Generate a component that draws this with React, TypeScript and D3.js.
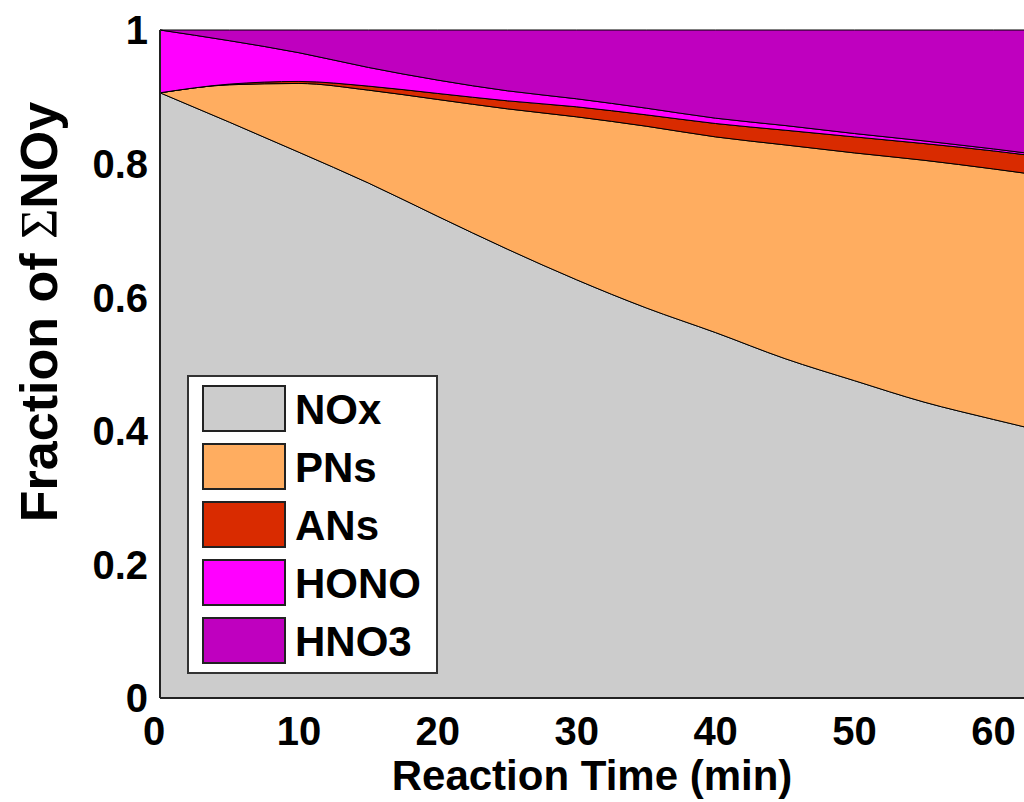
import React from 'react';
import * as d3 from 'd3';

// reaction time (min) and fraction of total NOy for each family
const times = [0, 5, 10, 15, 20, 25, 30, 35, 40, 45, 50, 55, 60, 65];
const nox = [0.906, 0.862, 0.817, 0.771, 0.721, 0.672, 0.626, 0.584, 0.547, 0.508, 0.475, 0.443, 0.417, 0.392];
const pns = [0, 0.056, 0.103, 0.139, 0.175, 0.21, 0.244, 0.272, 0.293, 0.32, 0.341, 0.362, 0.375, 0.386];
const ans = [0, 0.001, 0.003, 0.006, 0.009, 0.012, 0.015, 0.017, 0.02, 0.022, 0.024, 0.025, 0.027, 0.028];
const hono = [0.094, 0.065, 0.043, 0.028, 0.02, 0.015, 0.012, 0.01, 0.008, 0.007, 0.005, 0.004, 0.003, 0.003];
const hno3 = [0, 0.016, 0.034, 0.056, 0.075, 0.091, 0.103, 0.117, 0.132, 0.143, 0.155, 0.166, 0.178, 0.191];

const seriesNames = ['NOx', 'PNs', 'ANs', 'HONO', 'HNO3'];
const seriesColors = ['#cccccc', '#ffad60', '#d92b00', '#ff00ff', '#bf00bf'];
const xTicks = [0, 10, 20, 30, 40, 50, 60];
const yTicks = [0, 0.2, 0.4, 0.6, 0.8, 1];

const W = 1024;
const H = 802;
const margin = { top: 30, left: 160, bottom: 104 };
const font = 'Liberation Sans, Arial, sans-serif';

export default function App() {
  const table = times.map((t, i) => ({
    t,
    NOx: nox[i],
    PNs: pns[i],
    ANs: ans[i],
    HONO: hono[i],
    HNO3: hno3[i],
  }));

  const x = d3.scaleLinear().domain([0, 62.2]).range([margin.left, W]);
  const y = d3.scaleLinear().domain([0, 1]).range([H - margin.bottom, margin.top]);

  const stacked = d3.stack<any>().keys(seriesNames)(table);

  const area = d3
    .area<any>()
    .x((d) => x(d.data.t))
    .y0((d) => y(d[0]))
    .y1((d) => y(d[1]))
    .curve(d3.curveMonotoneX);

  const y0 = y(0);
  const legend = { x: 188, y: 376, w: 249, h: 297 };

  return (
    <div style={{ position: 'absolute', left: 0, top: 0 }}>
      <svg width={W} height={H} style={{ display: 'block', background: '#fff' }}>
        <defs>
          <clipPath id="plot">
            <rect x={margin.left} y={margin.top - 1} width={W - margin.left} height={y0 - margin.top + 1} />
          </clipPath>
        </defs>

        <g clipPath="url(#plot)">
          {stacked.map((s, i) => (
            <path key={s.key} d={area(s) || ''} fill={seriesColors[i]} stroke="#000" strokeWidth={1} />
          ))}
        </g>

        {/* axes */}
        <line x1={margin.left} x2={W} y1={y0} y2={y0} stroke="#222" strokeWidth={2} />
        <line x1={margin.left} x2={margin.left} y1={margin.top} y2={y0} stroke="#222" strokeWidth={2} />

        {yTicks.map((v) => (
          <text
            key={v}
            x={148}
            y={y(v)}
            dy="0.36em"
            textAnchor="end"
            fontFamily={font}
            fontWeight="bold"
            fontSize={40}
          >
            {d3.format('~g')(v)}
          </text>
        ))}

        {xTicks.map((v) => (
          <text
            key={v}
            x={x(v) - (v === 0 ? 6 : 0)}
            y={745}
            textAnchor="middle"
            fontFamily={font}
            fontWeight="bold"
            fontSize={40}
          >
            {v}
          </text>
        ))}

        <text x={592} y={790} textAnchor="middle" fontFamily={font} fontWeight="bold" fontSize={42}>
          Reaction Time (min)
        </text>

        <text
          transform={`translate(57, 312) rotate(-90)`}
          textAnchor="middle"
          fontFamily={font}
          fontWeight="bold"
          fontSize={52}
        >
          Fraction of{' '}
          <tspan fontFamily="Liberation Serif, DejaVu Serif, serif" fontWeight="normal">
            Σ
          </tspan>
          NOy
        </text>

        {/* legend */}
        <rect x={legend.x} y={legend.y} width={legend.w} height={legend.h} fill="#fff" stroke="#333" strokeWidth={2} />
        {seriesNames.map((name, i) => {
          const top = 386 + i * 58;
          return (
            <g key={name}>
              <rect x={203} y={top} width={82} height={45} fill={seriesColors[i]} stroke="#222" strokeWidth={2} />
              <text x={295} y={top + 38} fontFamily={font} fontWeight="bold" fontSize={42}>
                {name}
              </text>
            </g>
          );
        })}
      </svg>
    </div>
  );
}
